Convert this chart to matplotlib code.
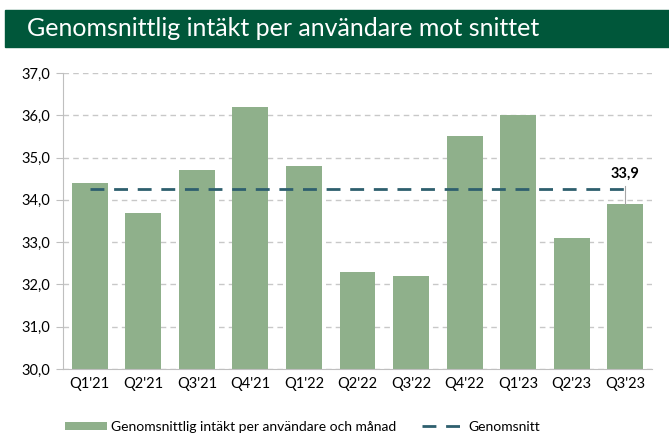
import numpy as np
import matplotlib.pyplot as plt
from matplotlib.patches import Rectangle

quarters = ["Q1'21", "Q2'21", "Q3'21", "Q4'21", "Q1'22", "Q2'22", "Q3'22",
            "Q4'22", "Q1'23", "Q2'23", "Q3'23"]
arpu = [34.4, 33.7, 34.7, 36.2, 34.8, 32.3, 32.2, 35.5, 36.0, 33.1, 33.9]
average = [34.26] * len(quarters)

bar_color = '#8fb08b'
line_color = '#2e5f6e'
title_bg = '#00573a'

plt.rcParams['font.family'] = ['Lato', 'DejaVu Sans']

fig = plt.figure(figsize=(6.69, 4.34), dpi=100)
ax = fig.add_axes([63 / 669, 1 - 369 / 434, 589 / 669, 296 / 434])

x = np.arange(len(quarters))
bars = ax.bar(x, arpu, width=0.67, color=bar_color, zorder=2,
              label='Genomsnittlig intäkt per användare och månad')
avg_line, = ax.plot(x, average, color=line_color, linestyle=(0, (5, 3.5)), linewidth=2,
                    zorder=3, label='Genomsnitt')

# data label for the latest quarter with a leader line
ax.plot([x[-1], x[-1]], [arpu[-1], 34.33], color='#a6a6a6', linewidth=0.8, zorder=4)
ax.text(x[-1], 34.45, f'{arpu[-1]:.1f}'.replace('.', ','), ha='center', va='bottom',
        fontsize=10.5, fontweight='bold', color='black')

ax.set_ylim(30, 37)
ax.set_xlim(-0.5, len(quarters) - 0.5)
ax.set_yticks(np.arange(30, 37.1, 1))
ax.set_yticklabels([f'{v:.1f}'.replace('.', ',') for v in np.arange(30, 37.1, 1)])
ax.set_xticks(x)
ax.set_xticklabels(quarters)
ax.tick_params(axis='y', length=5, color='#bfbfbf', labelsize=10.5, pad=4)
ax.tick_params(axis='x', length=0, labelsize=10.5, pad=6)
ax.grid(axis='y', color='#c8c8c8', linestyle=(0, (4, 3)), linewidth=1, zorder=0)
for s in ['top', 'right']:
    ax.spines[s].set_visible(False)
ax.spines['left'].set_color('#bfbfbf')
ax.spines['bottom'].set_color('#bfbfbf')

fig.legend([bars, avg_line], [bars.get_label(), avg_line.get_label()],
           loc='lower center', bbox_to_anchor=(0.452, -0.026), ncol=2, frameon=False,
           fontsize=10, handlelength=3.0, handleheight=0.5, columnspacing=1.8,
           handletextpad=0.35)

fig.patches.append(Rectangle((5 / 669, 1 - 47 / 434), 664 / 669, 37 / 434,
                             transform=fig.transFigure, color=title_bg, zorder=0))
fig.text(27 / 669, 1 - 29 / 434, 'Genomsnittlig intäkt per användare mot snittet',
         color='white', fontsize=18, va='center', ha='left')

fig.savefig('out.png', dpi=100)
